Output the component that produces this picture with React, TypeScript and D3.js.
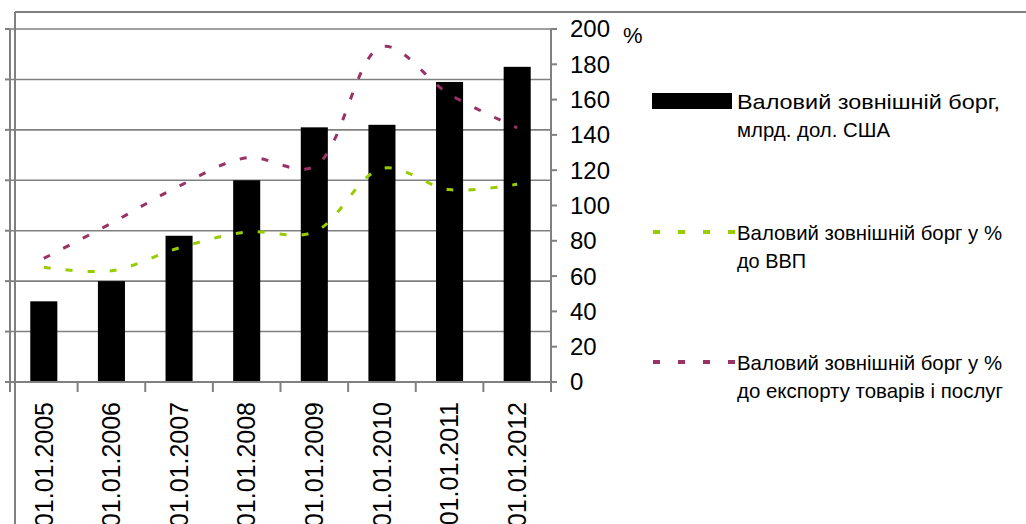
import * as d3 from "d3"

// Data
const categories = [
  "01.01.2005",
  "01.01.2006",
  "01.01.2007",
  "01.01.2008",
  "01.01.2009",
  "01.01.2010",
  "01.01.2011",
  "01.01.2012",
]
const debtBn = [32, 40, 58, 80, 101, 102, 119, 125]
const debtPctGdp = [65, 63, 76, 85, 85, 121, 109, 112]
const debtPctExports = [70, 90, 111, 127, 122, 190, 163, 144]
const leftTicks = [0, 20, 40, 60, 80, 100, 120, 140]
const rightTicks = [0, 20, 40, 60, 80, 100, 120, 140, 160, 180, 200]
const legendLabels = [
  ["Валовий зовнішній борг,", "млрд. дол. США"],
  ["Валовий зовнішній борг у %", "до ВВП"],
  ["Валовий зовнішній борг у %", "до експорту товарів і послуг"],
]

const W = 1026
const H = 524
const plot = { left: 10, right: 551, top: 29, bottom: 382 }
const grey = "#808080"
const green = "#99CC00"
const purple = "#993366"
const font = "'Liberation Sans', Arial, sans-serif"

export default function App() {
  const x = d3
    .scaleBand<string>()
    .domain(categories)
    .range([plot.left, plot.right])
    .paddingInner(0.6)
    .paddingOuter(0.3)
  const step = x.step()
  const cx = (c: string) => (x(c) || 0) + x.bandwidth() / 2

  const yLeft = d3.scaleLinear().domain([0, 140]).range([plot.bottom, plot.top])
  const yRight = d3.scaleLinear().domain([0, 200]).range([plot.bottom, plot.top])

  const line = d3
    .line<number>()
    .x((_, i) => cx(categories[i]))
    .y((d) => yRight(d))
    .curve(d3.curveCatmullRom.alpha(0.5))

  // legend geometry
  const legendY = [101, 232, 362]
  const legendWidths = [
    [263, 153],
    [265, 69],
    [265, 266],
  ]

  return (
    <svg
      width={W}
      height={H}
      style={{ position: "absolute", left: 0, top: 0, background: "#fff" }}
      fontFamily={font}
    >
      {/* outer frame */}
      <line x1={15} x2={W} y1={12} y2={12} stroke={grey} strokeWidth={2} />
      <line x1={15} x2={15} y1={12} y2={H} stroke={grey} strokeWidth={2} />

      {/* gridlines */}
      {leftTicks.slice(1).map((t) => (
        <line key={t} x1={plot.left} x2={plot.right} y1={yLeft(t)} y2={yLeft(t)} stroke={grey} strokeWidth={1.6} />
      ))}

      {/* bars */}
      {categories.map((c, i) => (
        <rect
          key={c}
          x={x(c)}
          y={yLeft(debtBn[i])}
          width={x.bandwidth()}
          height={yLeft(0) - yLeft(debtBn[i])}
          fill="#000"
        />
      ))}

      {/* lines */}
      <path d={line(debtPctGdp) || ""} fill="none" stroke={green} strokeWidth={3} strokeDasharray="7 15" />
      <path d={line(debtPctExports) || ""} fill="none" stroke={purple} strokeWidth={3} strokeDasharray="7 15" />

      {/* left axis */}
      <line x1={plot.left} x2={plot.left} y1={plot.top} y2={plot.bottom + 10} stroke={grey} strokeWidth={2} />
      {leftTicks.map((t) => (
        <line key={t} x1={plot.left - 5} x2={plot.left} y1={yLeft(t)} y2={yLeft(t)} stroke={grey} strokeWidth={2} />
      ))}

      {/* bottom axis */}
      <line x1={plot.left - 5} x2={plot.right + 6} y1={plot.bottom} y2={plot.bottom} stroke={grey} strokeWidth={2} />
      {categories.slice(1).map((c) => (
        <line
          key={c}
          x1={cx(c) - step / 2}
          x2={cx(c) - step / 2}
          y1={plot.bottom}
          y2={plot.bottom + 10}
          stroke={grey}
          strokeWidth={2}
        />
      ))}
      {categories.map((c) => (
        <text
          key={c}
          transform={`translate(${cx(c)},402) rotate(-90)`}
          textAnchor="end"
          dy="0.35em"
          fontSize={25}
          fill="#000"
        >
          {c}
        </text>
      ))}

      {/* right axis */}
      <line x1={plot.right} x2={plot.right} y1={plot.top} y2={plot.bottom + 10} stroke={grey} strokeWidth={2} />
      {rightTicks.map((t) => (
        <g key={t}>
          <line x1={plot.right} x2={plot.right + 6} y1={yRight(t)} y2={yRight(t)} stroke={grey} strokeWidth={2} />
          <text x={570} y={yRight(t)} dy="0.35em" fontSize={24} fill="#000">
            {t}
          </text>
        </g>
      ))}
      <text x={623} y={43} fontSize={22} fill="#000">
        %
      </text>

      {/* legend */}
      <rect x={652} y={legendY[0] - 8} width={80} height={16} fill="#000" />
      <line x1={653} x2={735} y1={legendY[1]} y2={legendY[1]} stroke={green} strokeWidth={4} strokeDasharray="7 18" />
      <line x1={653} x2={735} y1={legendY[2]} y2={legendY[2]} stroke={purple} strokeWidth={4} strokeDasharray="7 18" />
      {legendLabels.map((lines, i) =>
        lines.map((s, j) => (
          <text
            key={`${i}-${j}`}
            x={737}
            y={legendY[i] + 8 + j * 28}
            fontSize={21}
            fill="#000"
            textLength={legendWidths[i][j]}
            lengthAdjust="spacingAndGlyphs"
          >
            {s}
          </text>
        ))
      )}
    </svg>
  )
}
